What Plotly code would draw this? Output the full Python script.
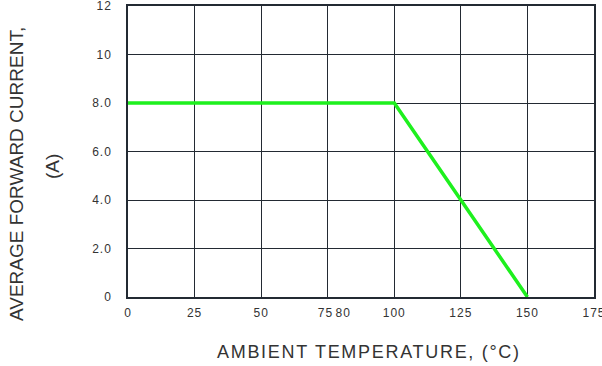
import plotly.graph_objects as go

temp_c = [0, 100, 150]
current_a = [8.0, 8.0, 0.0]

grid_x = [0, 25, 50, 75, 100, 125, 150, 175]
x_tickvals = [0, 25, 50, 75, 80, 100, 125, 150, 175]
x_ticktext = ["0", "25", "50", "75\u00a0", "\u00a080", "100", "125", "150", "175"]
y_tickvals = [0, 2, 4, 6, 8, 10, 12]
y_ticktext = ["0", "2.0", "4.0", "6.0", "8.0", "10", "12"]

grid_col = "#232a33"
font_fam = "Liberation Sans, Arial, sans-serif"
txt_col = "#333333"

W, H = 602, 366
PL, PR, PT, PB = 128, 594, 6, 297  # plot area in pixels
pw, ph = PR - PL, PB - PT


def px(xs):
    return (xs - PL) / pw


def py(ys):
    return (PB - ys) / ph


def spaced(t, ls=1):
    return f"<span style='letter-spacing:{ls}px'>{t}</span>"


fig = go.Figure()
fig.add_trace(go.Scatter(x=temp_c, y=current_a, mode="lines",
                         line=dict(color="#1ef01e", width=3.5),
                         showlegend=False, hoverinfo="skip"))
# invisible trace to carry the labelled overlay axis
fig.add_trace(go.Scatter(x=temp_c, y=current_a, mode="lines", xaxis="x2",
                         line=dict(color="rgba(0,0,0,0)", width=0),
                         showlegend=False, hoverinfo="skip"))

fig.update_layout(
    width=W, height=H, autosize=False,
    margin=dict(l=PL, r=W - PR, t=PT, b=H - PB, pad=0, autoexpand=False),
    plot_bgcolor="white", paper_bgcolor="white",
    font=dict(family=font_fam, size=12, color=txt_col),
    xaxis=dict(range=[0, 175], tickvals=grid_x, showticklabels=False,
               showgrid=True, gridcolor=grid_col, gridwidth=1.3,
               showline=True, linecolor=grid_col, linewidth=1.5, mirror=True,
               zeroline=False, ticks="", automargin=False),
    xaxis2=dict(range=[0, 175], overlaying="x", side="bottom",
                tickvals=x_tickvals, ticktext=[spaced(t) for t in x_ticktext],
                showgrid=False, showline=False, zeroline=False,
                ticks="outside", ticklen=5, tickcolor="rgba(0,0,0,0)",
                tickangle=0, automargin=False,
                ticklabeloverflow="allow",
                tickfont=dict(size=12, color=txt_col)),
    yaxis=dict(range=[0, 12], tickvals=y_tickvals,
               ticktext=[spaced(t) for t in y_ticktext],
               showgrid=True, gridcolor=grid_col, gridwidth=1.3,
               showline=True, linecolor=grid_col, linewidth=1.5, mirror=True,
               zeroline=False, ticks="outside", ticklen=12, tickcolor="rgba(0,0,0,0)",
               automargin=False, ticklabeloverflow="allow",
               tickfont=dict(size=12, color=txt_col)),
    annotations=[
        dict(text="AVERAGE FORWARD CURRENT,", xref="paper", yref="paper",
             x=px(16.5), y=py(174.5), xanchor="center", yanchor="middle",
             textangle=-90, showarrow=False, font=dict(size=19, color=txt_col)),
        dict(text="(A)", xref="paper", yref="paper",
             x=px(52), y=py(167), xanchor="center", yanchor="middle",
             textangle=-90, showarrow=False, font=dict(size=19, color=txt_col)),
        dict(text=spaced("AMBIENT TEMPERATURE, (°C)", 1.7), xref="paper", yref="paper",
             x=px(369), y=py(352), xanchor="center", yanchor="middle",
             showarrow=False, font=dict(size=18, color=txt_col)),
    ],
)

fig.write_html("out.html", config={"displayModeBar": False},
               post_script="document.body.style.margin='0';")
